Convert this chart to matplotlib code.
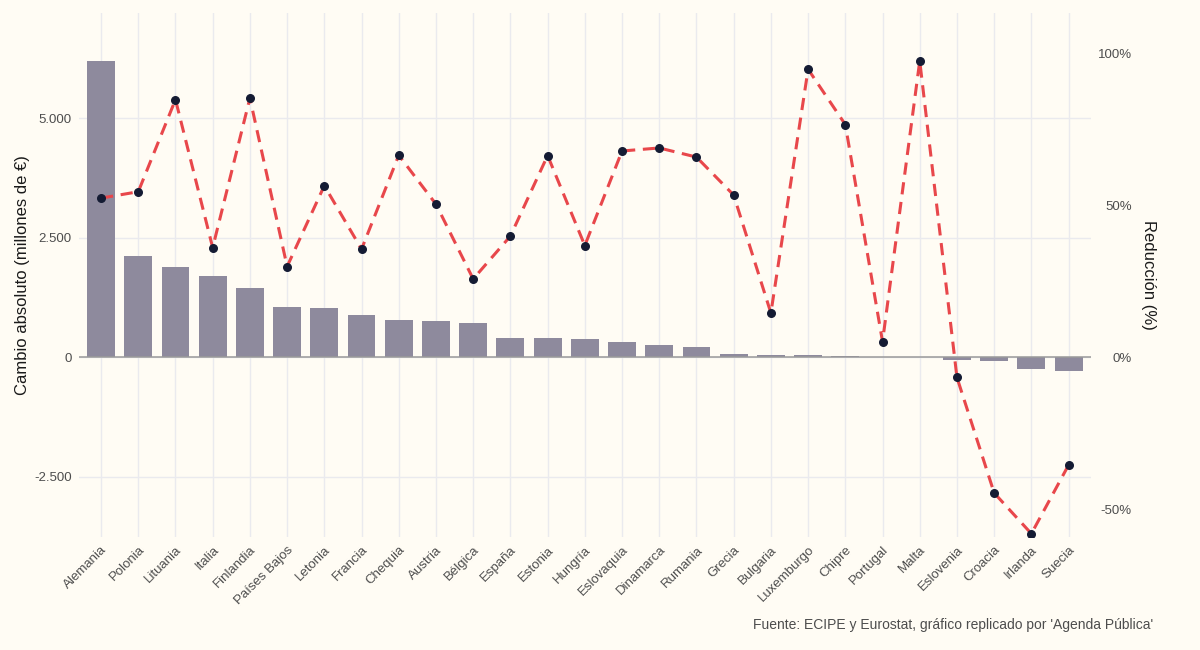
import numpy as np
import matplotlib
matplotlib.use("Agg")
import matplotlib.pyplot as plt

plt.rcParams['font.family'] = ['Liberation Sans', 'DejaVu Sans']

# datos
paises = ['Alemania', 'Polonia', 'Lituania', 'Italia', 'Finlandia', 'Países Bajos',
          'Letonia', 'Francia', 'Chequia', 'Austria', 'Bélgica', 'España', 'Estonia',
          'Hungría', 'Eslovaquia', 'Dinamarca', 'Rumania', 'Grecia', 'Bulgaria',
          'Luxemburgo', 'Chipre', 'Portugal', 'Malta', 'Eslovenia', 'Croacia',
          'Irlanda', 'Suecia']
cambio = [6190, 2110, 1880, 1695, 1445, 1045, 1015, 880, 775, 745, 722, 408, 390,
          378, 320, 257, 210, 56, 48, 35, 21, 5, 2, -63, -77, -251, -286]
reduccion = [52.3, 54.4, 84.7, 36.0, 85.2, 29.8, 56.4, 35.5, 66.4, 50.3, 25.7, 39.8,
             66.3, 36.7, 67.8, 68.8, 65.8, 53.3, 14.5, 94.7, 76.5, 5.1, 97.4, -6.7,
             -44.7, -58.1, -35.5]

bg = '#FFFCF4'
fig = plt.figure(figsize=(12, 6.5), dpi=100, facecolor=bg)
ax = fig.add_axes([0.0656, 0.1738, 0.8435, 0.8062])
ax.set_facecolor(bg)
x = np.arange(len(paises))

ax.bar(x, cambio, width=0.75, color='#8E8A9D', zorder=2)
ax.axhline(0, color='#9A9A9A', lw=1.1, zorder=3)
ax.set_xlim(-0.6, len(paises) - 0.4)
ax.set_ylim(-3766, 7197)
ax.set_yticks([-2500, 0, 2500, 5000])
ax.set_yticklabels(['-2.500', '0', '2.500', '5.000'])
ax.set_xticks(x)
ax.set_xticklabels(paises, rotation=45, ha='right', rotation_mode='anchor')
ax.grid(True, color='#EAEAEE', lw=1.0, zorder=0)
ax.set_axisbelow(True)
ax.tick_params(length=0, labelsize=9.5, labelcolor='#4D4D4D', pad=5)
for s in ax.spines.values():
    s.set_visible(False)
ax.set_ylabel('Cambio absoluto (millones de €)', fontsize=12, color='#1A1A1A', labelpad=3)

ax2 = ax.twinx()
ax2.set_ylim(-59.2, 113.2)
ax2.plot(x, reduccion, color='#E8474B', lw=2.2, ls=(0, (4, 2.5)), zorder=3)
ax2.scatter(x, reduccion, s=30, color='#141B33', zorder=4)
ax2.set_yticks([-50, 0, 50, 100])
ax2.set_yticklabels(['-50%', '0%', '50%', '100%'])
ax2.tick_params(length=0, labelsize=9.5, labelcolor='#4D4D4D', pad=29.5)
for t in ax2.get_yticklabels():
    t.set_horizontalalignment('right')
for s in ax2.spines.values():
    s.set_visible(False)
ax2.set_ylabel('Reducción (%)', fontsize=12, color='#1A1A1A', rotation=270, labelpad=17)

fig.text(0.961, 0.028, "Fuente: ECIPE y Eurostat, gráfico replicado por 'Agenda Pública'",
         ha='right', va='bottom', fontsize=10, color='#4D4D4D')

fig.savefig('out.png', dpi=100, facecolor=bg)
